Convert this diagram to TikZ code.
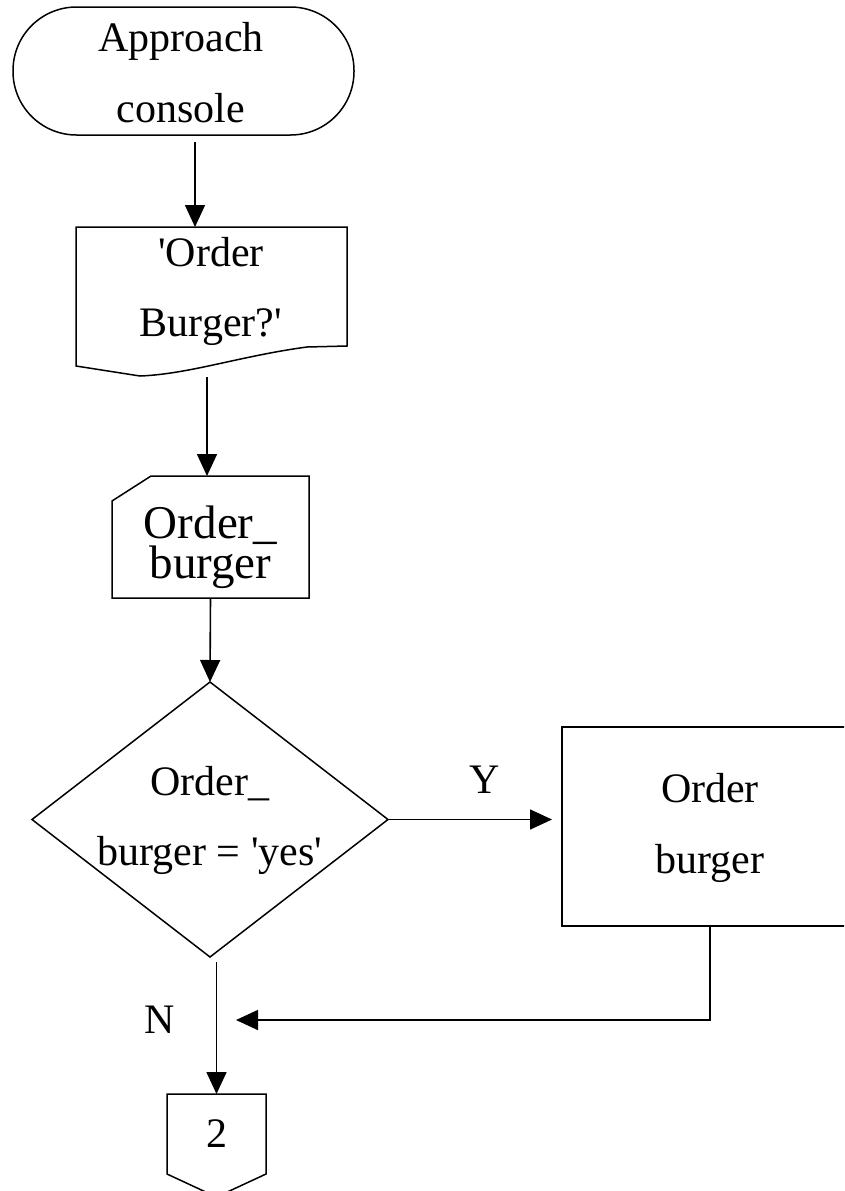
\documentclass[tikz,border=0pt]{standalone}
\usepackage{fontspec}
\setmainfont{Liberation Serif}
\usetikzlibrary{arrows.meta,calc,shapes.geometric}
\begin{document}
\begin{tikzpicture}[x=1pt,y=-1pt,
  outline/.style={draw=black, line width=1.5pt, line join=miter},
  link/.style={draw=black, line width=1.6pt, -{Triangle[length=22pt,width=20pt]}},
  frame/.style={inner sep=0pt, outer sep=0pt},
  body/.style={align=center, inner sep=0pt, font=\fontsize{42}{71}\selectfont},
  tag/.style={anchor=base, inner sep=0pt, font=\fontsize{42}{50}\selectfont}]
\useasboundingbox (0,0) rectangle (844,1191);
\clip (0,0) rectangle (844,1191);

% start terminator
\node[frame, outline, rounded corners=63.5pt, minimum width=341pt, minimum height=128pt] (term) at (183.5,71) {};
\node[body] (termText) at (181,72.5) {Approach\\console};

% output document with wavy lower edge
\node[frame, minimum width=271pt, minimum height=119pt] (doc) at (211.5,286.5) {};
\path[outline] (doc.north west) -- (doc.north east) -- (doc.south east) -- (307,347)
  .. controls (240,356) and (190,374) .. (140,376) -- (76,366) -- cycle;
\node[body, font={\fontsize{42}{70}\selectfont}] (docText) at (211,291.5) {\textquotesingle Order\\Burger?\textquotesingle};
\coordinate (docTop) at (195,227);
\coordinate (docBottom) at (207,377);

% manual input
\node[frame, minimum width=197pt, minimum height=122pt] (inp) at (210.5,537) {};
\path[outline] (151,476) -- (inp.north east) -- (inp.south east) -- (inp.south west) -- (112,501) -- cycle;
\node[body, font={\fontsize{47}{40}\selectfont\lineskiplimit=-50pt}] (inpText) at (210.5,547.5) {Order\_\\burger};

% decision
\node[frame, outline, diamond, minimum width=356pt, minimum height=275pt] (dec) at (210,819.5) {};
\node[body, font={\fontsize{42}{70}\selectfont}] (decText) at (210,820.5) {Order\_\\burger = \textquotesingle yes\textquotesingle};

% process box
\node[frame, outline, minimum width=296pt, minimum height=199pt] (box) at (710,826.5) {};
\node[body] (boxText) at (710,828) {Order\\burger};

% off-page connector
\node[frame, minimum width=99pt, minimum height=80pt] (conn) at (216.5,1134) {};
\path[outline] (conn.north west) -- (conn.north east) -- (conn.south east)
  -- ($(conn.south)+(0,23)$) -- (conn.south west) -- cycle;
\node[tag] (connText) at (216.5,1147) {2};

% connectors
\draw[link] ($(term.south)+(11.5,7)$) -- (docTop);
\draw[link] (docBottom) -- (docBottom |- inp.north);
\draw[link] (inp.south) -- (dec.north);
\draw[link, shorten >=10pt] (dec.east) -- (dec.east -| box.west);
\node[tag] (yLabel) at (485,793) {Y};
\coordinate (joinPt) at (236,1020);
\draw[link] (box.south) |- (joinPt);
\draw[link] ($(dec.south)+(6.5,5)$) -- (conn.north);
\node[tag] (nLabel) at (160,1033) {N};
\end{tikzpicture}
\end{document}
